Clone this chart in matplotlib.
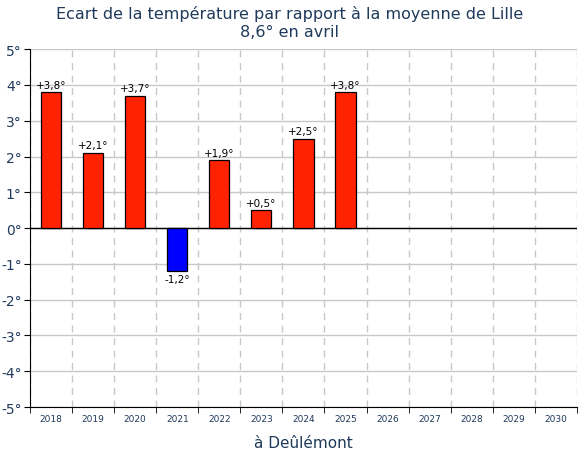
import numpy as np
import matplotlib.pyplot as plt

# ================== Données ==================
annees = [str(a) for a in range(2018, 2031)]
ecarts = [3.8, 2.1, 3.7, -1.2, 1.9, 0.5, 2.5, 3.8]
y_ticks = [-5, -4, -3, -2, -1, 0, 1, 2, 3, 4, 5]

titre = "Ecart de la température par rapport à la moyenne de Lille\n8,6° en avril"
legende_x = "à Deûlémont"

bleu_texte = "#1f3a5a"

fig = plt.figure(figsize=(5.8, 4.6), dpi=100)
ax = fig.add_axes([0.0517, 0.113, 0.943, 0.778])

x = np.arange(len(annees))
couleurs = ["#ff2200" if v >= 0 else "#0000ff" for v in ecarts]
ax.bar(x[:len(ecarts)], ecarts, width=0.48, color=couleurs, edgecolor="black", linewidth=0.9, zorder=3)

for xi, v in zip(x, ecarts):
    txt = f"{v:+.1f}°".replace(".", ",")
    if v >= 0:
        ax.text(xi, v + 0.07, txt, ha="center", va="bottom", fontsize=7.5, zorder=4)
    else:
        ax.text(xi, v - 0.07, txt, ha="center", va="top", fontsize=7.5, zorder=4)

ax.set_xlim(-0.5, len(annees) - 0.5)
ax.set_ylim(-5, 5)
ax.set_yticks(y_ticks)
ax.set_yticklabels([f"{t}°" for t in y_ticks], color=bleu_texte, fontsize=10)

# étiquettes des années au centre, petits traits entre les catégories
ax.set_xticks(x)
ax.set_xticklabels(annees, fontsize=6.5, color=bleu_texte)
ax.tick_params(axis="x", which="major", length=0, pad=5)
ax.set_xticks(np.arange(-0.5, len(annees)), minor=True)
ax.tick_params(axis="x", which="minor", length=4, color="black")
ax.tick_params(axis="y", length=4, pad=2)

ax.grid(axis="y", color="#c8c8c8", linewidth=1, zorder=0)
ax.grid(axis="x", which="minor", color="#c8c8c8", linestyle=(0, (5, 4)), linewidth=1, zorder=0)
ax.axhline(0, color="black", linewidth=1, zorder=2)

ax.spines["top"].set_visible(False)
ax.spines["right"].set_visible(False)

fig.suptitle(titre, color=bleu_texte, fontsize=11.5, y=0.988, linespacing=1.3)
ax.set_xlabel(legende_x, color=bleu_texte, fontsize=11, labelpad=9)

plt.savefig("out.png", dpi=100)
